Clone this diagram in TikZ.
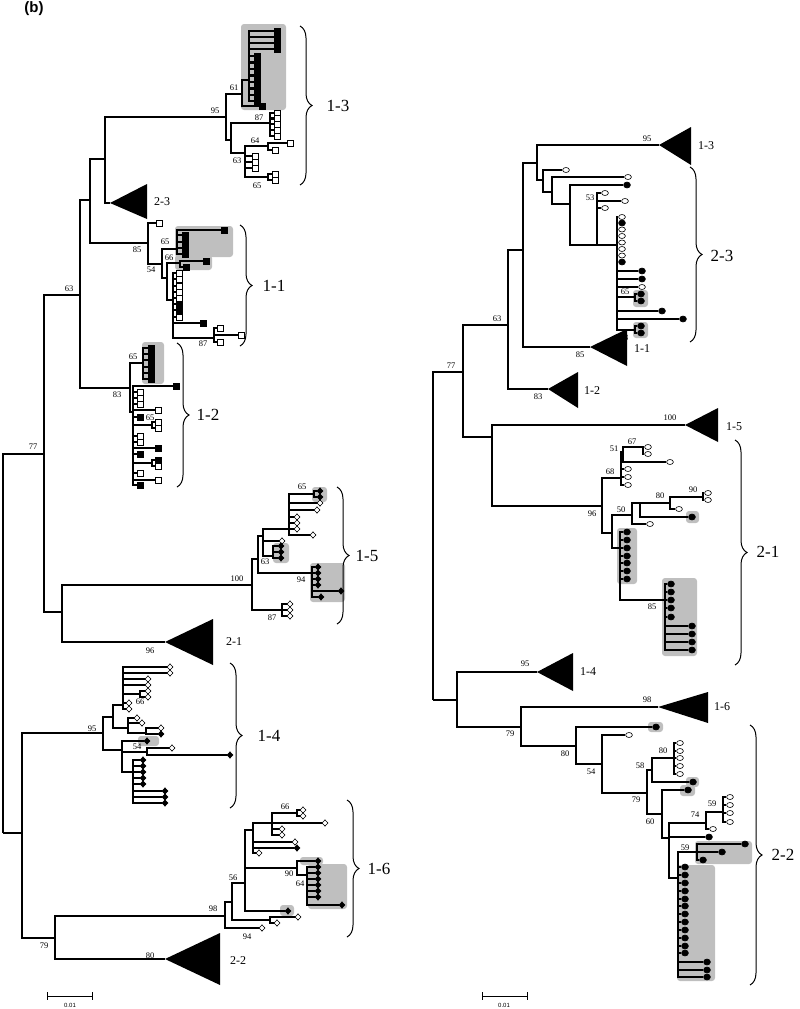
\documentclass[tikz,border=0pt]{standalone}
\usepackage{fontspec}
\setmainfont{Liberation Serif}
\newfontfamily\headfont{Liberation Sans}
\usetikzlibrary{shapes.geometric}
\usetikzlibrary{decorations.pathreplacing}

\begin{document}
\begin{tikzpicture}[x=1pt,y=-1pt,
  br/.style={line width=2.3pt},
  hl/.style={fill=black!25, rounded corners=3pt},
  osq/.style={draw, fill=white, line width=.6pt, minimum size=6pt, inner sep=0},
  fsq/.style={osq, fill=black},
  odia/.style={diamond, draw, fill=white, line width=.6pt, minimum width=6pt, minimum height=6.5pt, inner sep=0},
  fdia/.style={odia, fill=black},
  ocirc/.style={ellipse, draw, fill=white, line width=.6pt, minimum width=6.8pt, minimum height=5pt, inner sep=0},
  fcirc/.style={ocirc, fill=black, minimum height=6pt},
  bs/.style={font=\fontsize{8.5}{9}\selectfont, inner sep=0},
  big/.style={font=\fontsize{17}{18}\selectfont, inner sep=0},
  mid/.style={font=\fontsize{12}{13}\selectfont, inner sep=0},
  brc/.style={decorate, decoration={brace, amplitude=12pt}, line width=1pt}
]
\useasboundingbox (0,0) rectangle (800,1009);

\node[font=\headfont\bfseries\fontsize{15}{16}\selectfont] (title) at (34,9) {(b)};

% shaded groups
\fill[hl] (241,24) rectangle (286,110);
\fill[hl] (175,226) rectangle (233,257);
\fill[hl] (175,255) rectangle (212,270);
\fill[hl] (142,342) rectangle (164,384);
\fill[hl] (312,487) rectangle (327,502);
\fill[hl] (273,543) rectangle (289,563);
\fill[hl] (310,563) rectangle (345,602);
\fill[hl] (138,736) rectangle (159,746);
\fill[hl] (300,857) rectangle (323,865);
\fill[hl] (308,864) rectangle (347,909);
\fill[hl] (280,905) rectangle (294,916);
\fill[hl] (633,290) rectangle (648,307);
\fill[hl] (633,322) rectangle (648,338);
\fill[hl] (686,511) rectangle (699,523);
\fill[hl] (617,528) rectangle (637,584);
\fill[hl] (662,578) rectangle (697,656);
\fill[hl] (648,722) rectangle (663,732);
\fill[hl] (686,777) rectangle (699,787);
\fill[hl] (680,785) rectangle (695,796);
\fill[hl] (695,841) rectangle (752,864);
\fill[hl] (677,865) rectangle (715,981);

%%% left tree
\coordinate (Lr) at (3,833);
\coordinate (L77) at (44,454);
\coordinate (L63) at (80,295);
\coordinate (La) at (90,200);
\coordinate (Lb) at (105,159);
\coordinate (L95) at (226,117);
\coordinate (L61) at (242,94);
\coordinate (Ld) at (249,80);
\coordinate (Lc) at (231,140);
\coordinate (L87) at (270,123);
\coordinate (L63b) at (245,153);
\coordinate (L64) at (268,146);
\coordinate (L65b) at (268,177);
\coordinate (T23) at (110,203);
\coordinate (L85) at (148,243);
\coordinate (L54) at (162,264);
\coordinate (L65c) at (177,249);
\coordinate (Le) at (167,278);
\coordinate (L66) at (180,263);
\coordinate (Lf) at (173,300);
\coordinate (L87b) at (214,338);
\coordinate (L83) at (130,388);
\coordinate (L65d) at (143,363);
\coordinate (Lg) at (133,412);
\coordinate (L65e) at (152,425);
\coordinate (Lh2) at (152,463);
\coordinate (L2x) at (62,612);
\coordinate (L100) at (252,585);
\coordinate (Lh) at (258,559);
\coordinate (L94) at (312,573);
\coordinate (Li) at (263,536);
\coordinate (Lj) at (289,529);
\coordinate (L65f) at (314,494);
\coordinate (L63c) at (273,556);
\coordinate (L87c) at (282,610);
\coordinate (T21) at (165,642);
\coordinate (Lb2) at (22,833);
\coordinate (L95b) at (103,733);
\coordinate (Lk) at (113,717);
\coordinate (Ll) at (123,705);
\coordinate (Lm) at (140,694);
\coordinate (Ln) at (128,728);
\coordinate (Lo) at (146,733);
\coordinate (Lp) at (122,750);
\coordinate (L54b) at (147,752);
\coordinate (Lq) at (133,772);
\coordinate (L79) at (55,938);
\coordinate (L98) at (225,916);
\coordinate (Lr1) at (232,902);
\coordinate (Ls) at (270,920);
\coordinate (L56) at (245,883);
\coordinate (Lt) at (253,830);
\coordinate (Lu) at (272,823);
\coordinate (L66c) at (297,813);
\coordinate (L90) at (297,868);
\coordinate (L64b) at (307,875);
\coordinate (T22) at (165,959);

\draw[br] (Lr) |- (L77);
\draw[br] (Lr) -- (Lb2);
\draw[br] (L77) |- (L63);
\draw[br] (L77) |- (L2x);
\draw[br] (L63) |- (La);
\draw[br] (L63) |- (L83);
\draw[br] (La) |- (Lb);
\draw[br] (La) |- (L85);
\draw[br] (Lb) |- (L95);
\draw[br] (Lb) |- (T23);
\draw[br] (L95) |- (L61);
\draw[br] (L95) |- (Lc);
\draw[br] (L61) |- (Ld);
\draw[br] (Lc) |- (L87);
\draw[br] (Lc) |- (L63b);
\draw[br] (L63b) |- (L64);
\draw[br] (L63b) |- (L65b);
\draw[br] (L85) |- (L54);
\draw[br] (L54) |- (L65c);
\draw[br] (L54) |- (Le);
\draw[br] (Le) |- (L66);
\draw[br] (Le) |- (Lf);
\draw[br] (Lf) |- (L87b);
\draw[br] (L83) |- (L65d);
\draw[br] (L83) |- (Lg);
\draw[br] (Lg) |- (L65e);
\draw[br] (Lg) |- (Lh2);
\draw[br] (L2x) |- (L100);
\draw[br] (L2x) |- (T21);
\draw[br] (L100) |- (Lh);
\draw[br] (L100) |- (L87c);
\draw[br] (Lh) |- (Li);
\draw[br] (Lh) |- (L94);
\draw[br] (Li) |- (Lj);
\draw[br] (Li) |- (L63c);
\draw[br] (Lj) |- (L65f);
\draw[br] (Lb2) |- (L95b);
\draw[br] (Lb2) |- (L79);
\draw[br] (L95b) |- (Lk);
\draw[br] (L95b) |- (Lp);
\draw[br] (Lk) |- (Ll);
\draw[br] (Lk) |- (Ln);
\draw[br] (Ll) |- (Lm);
\draw[br] (Ln) |- (Lo);
\draw[br] (Lp) |- (L54b);
\draw[br] (Lp) |- (Lq);
\draw[br] (L79) |- (L98);
\draw[br] (L79) |- (T22);
\draw[br] (L98) |- (Lr1);
\draw[br] (Lr1) |- (L56);
\draw[br] (Lr1) |- (Ls);
\draw[br] (L56) |- (Lt);
\draw[br] (L56) |- (L90);
\draw[br] (Lt) |- (Lu);
\draw[br] (Lu) |- (L66c);
\draw[br] (L90) |- (L64b);

% leaves, left
\foreach \x/\y/\s [count=\i] in {277/31/fsq,277/37/fsq,277/43/fsq,277/49/fsq,257/56/fsq,257/62.5/fsq,257/69/fsq,257/75.5/fsq,257/82/fsq,257/88.5/fsq,257/95/fsq,257/101/fsq}
  {\node[\s] (Ld\i) at (\x,\y) {}; \draw[br] (Ld) |- (Ld\i);}
\node[fsq] (L61a) at (262,106) {}; \draw[br] (L61) |- (L61a);
\foreach \y [count=\i] in {113,118.5,124,130,136}
  {\node[osq] (L87\i) at (277,\y) {}; \draw[br] (L87) |- (L87\i);}
\foreach \y [count=\i] in {156,162,168}
  {\node[osq] (L63b\i) at (255,\y) {}; \draw[br] (L63b) |- (L63b\i);}
\foreach \x/\y [count=\i] in {290/143,275/150}
  {\node[osq] (L64\i) at (\x,\y) {}; \draw[br] (L64) |- (L64\i);}
\foreach \y [count=\i] in {174,180}
  {\node[osq] (L65b\i) at (275,\y) {}; \draw[br] (L65b) |- (L65b\i);}
\node[osq] (L85a) at (159,223) {}; \draw[br] (L85) |- (L85a);
\foreach \x/\y [count=\i] in {224/230,185/235,185/242,185/248,185/254}
  {\node[fsq] (L65c\i) at (\x,\y) {}; \draw[br] (L65c) |- (L65c\i);}
\foreach \x/\y [count=\i] in {206/261,186/267}
  {\node[fsq] (L66\i) at (\x,\y) {}; \draw[br] (L66) |- (L66\i);}
\foreach \x/\y/\s [count=\i] in {179/273/osq,179/279/osq,179/286/osq,179/292/osq,179/298/osq,179/304/fsq,179/310/fsq,179/317/osq,203/323/fsq}
  {\node[\s] (Lf\i) at (\x,\y) {}; \draw[br] (Lf) |- (Lf\i);}
\foreach \x/\y [count=\i] in {220/328,241/335,220/342}
  {\node[osq] (L87b\i) at (\x,\y) {}; \draw[br] (L87b) |- (L87b\i);}
\foreach \y [count=\i] in {348,354,360,367,373,379}
  {\node[fsq] (L65d\i) at (151,\y) {}; \draw[br] (L65d) |- (L65d\i);}
\foreach \x/\y/\s [count=\i] in {176/386/fsq,140/392/osq,140/398/osq,140/404/osq,158/410/osq,140/417/fsq,140/436/osq,140/442/osq,158/448/fsq,140/454/fsq,140/473/osq,158/480/osq,140/485/fsq}
  {\node[\s] (Lg\i) at (\x,\y) {}; \draw[br] (Lg) |- (Lg\i);}
\foreach \y [count=\i] in {422,428}
  {\node[osq] (L65e\i) at (158,\y) {}; \draw[br] (L65e) |- (L65e\i);}
\foreach \y/\s [count=\i] in {460/fsq,466/osq}
  {\node[\s] (Lh2\i) at (158,\y) {}; \draw[br] (Lh2) |- (Lh2\i);}
\node[odia] (Lia) at (282,541) {}; \draw[br] (Li) |- (Lia);
\foreach \x/\y [count=\i] in {320/503,317/510,297/517,297/523,297/529,313/535}
  {\node[odia] (Lj\i) at (\x,\y) {}; \draw[br] (Lj) |- (Lj\i);}
\foreach \y [count=\i] in {491,497}
  {\node[fdia] (L65f\i) at (320,\y) {}; \draw[br] (L65f) |- (L65f\i);}
\foreach \y [count=\i] in {546,552,558}
  {\node[fdia] (L63c\i) at (281,\y) {}; \draw[br] (L63c) |- (L63c\i);}
\foreach \x/\y [count=\i] in {318/567,318/573,318/579,318/585,341/591,321/597}
  {\node[fdia] (L94\i) at (\x,\y) {}; \draw[br] (L94) |- (L94\i);}
\foreach \y [count=\i] in {604,610,616}
  {\node[odia] (L87c\i) at (290,\y) {}; \draw[br] (L87c) |- (L87c\i);}
\foreach \x/\y [count=\i] in {170/667,170/673,148/679,148/685,129/703,129/709}
  {\node[odia] (Ll\i) at (\x,\y) {}; \draw[br] (Ll) |- (Ll\i);}
\foreach \y [count=\i] in {691,697}
  {\node[odia] (Lm\i) at (148,\y) {}; \draw[br] (Lm) |- (Lm\i);}
\foreach \x/\y [count=\i] in {137/718,142/723}
  {\node[odia] (Ln\i) at (\x,\y) {}; \draw[br] (Ln) |- (Ln\i);}
\foreach \y/\s [count=\i] in {728/odia,734/fdia}
  {\node[\s] (Lo\i) at (161,\y) {}; \draw[br] (Lo) |- (Lo\i);}
\node[fdia] (Lpa) at (147,741) {}; \draw[br] (Lp) |- (Lpa);
\foreach \x/\y/\s [count=\i] in {172/748/odia,230/755/fdia}
  {\node[\s] (L54b\i) at (\x,\y) {}; \draw[br] (L54b) |- (L54b\i);}
\foreach \x/\y [count=\i] in {143/760,143/766,143/772,143/778,143/784,165/791,165/797,165/803}
  {\node[fdia] (Lq\i) at (\x,\y) {}; \draw[br] (Lq) |- (Lq\i);}
\node[odia] (L98a) at (262,928) {}; \draw[br] (L98) |- (L98a);
\foreach \x/\y [count=\i] in {298/917,277/923}
  {\node[odia] (Ls\i) at (\x,\y) {}; \draw[br] (Ls) |- (Ls\i);}
\node[fdia] (L56a) at (288,911) {}; \draw[br] (L56) |- (L56a);
\foreach \x/\y/\s [count=\i] in {295/842/odia,297/848/fdia,259/853/odia}
  {\node[\s] (Lt\i) at (\x,\y) {}; \draw[br] (Lt) |- (Lt\i);}
\foreach \x/\y [count=\i] in {325/823,282/829,282/835}
  {\node[odia] (Lu\i) at (\x,\y) {}; \draw[br] (Lu) |- (Lu\i);}
\foreach \y [count=\i] in {810,816}
  {\node[odia] (L66c\i) at (303,\y) {}; \draw[br] (L66c) |- (L66c\i);}
\node[fdia] (L90a) at (318,861) {}; \draw[br] (L90) |- (L90a);
\foreach \x/\y [count=\i] in {318/867,318/873,318/879,318/885,318/891,318/897,342/905}
  {\node[fdia] (L64b\i) at (\x,\y) {}; \draw[br] (L64b) |- (L64b\i);}

% collapsed groups, left
\fill (T23) -- (147,184) -- (147,219) -- cycle;
\fill (T21) -- (213,619) -- (213,665) -- cycle;
\fill (T22) -- (220,933) -- (220,985) -- cycle;
\node[mid] (g23) at (162,202) {2-3};
\node[mid] (g21) at (234,642) {2-1};
\node[mid] (g22) at (238,961) {2-2};

% braces, left
\draw[brc] (300,26) -- (300,185);
\draw[brc] (240,225) -- (240,346);
\draw[brc] (177,343) -- (177,487);
\draw[brc] (337,487) -- (337,624);
\draw[brc] (230,663) -- (230,808);
\draw[brc] (347,800) -- (347,937);
\node[big] (c13) at (338,106) {1-3};
\node[big] (c11) at (274,286) {1-1};
\node[big] (c12) at (208,415) {1-2};
\node[big] (c15) at (367,556) {1-5};
\node[big] (c14) at (269,736) {1-4};
\node[big] (c16) at (379,869) {1-6};

% support values, left
\foreach \x/\y/\t [count=\i] in {33/447/77,69/289/63,215/111/95,234/88/61,259/118/87,255/141/64,237/161/63,257/186/65,137/250/85,165/242/65,151/270/54,169/258/66,203/344/87,117/395/83,133/357/65,150/418/65,237/579/100,301/580/94,302/487/65,265/562/63,272/618/87,150/651/96,92/729/95,140/702/66,137/747/54,44/946/79,213/909/98,150/956/80,233/878/56,285/807/66,289/874/90,300/884/64,247/937/94}
  \node[bs] (bl\i) at (\x,\y) {\t};

%%% right tree
\coordinate (Rr) at (433,700);
\coordinate (R79a) at (457,700);
\coordinate (R77) at (463,372);
\coordinate (R63) at (508,325);
\coordinate (Rw) at (523,250);
\coordinate (Rx) at (537,163);
\coordinate (Ry) at (543,180);
\coordinate (Rz) at (552,192);
\coordinate (Ra) at (570,204);
\coordinate (R53) at (597,245);
\coordinate (Rb) at (617,245);
\coordinate (R65) at (635,297);
\coordinate (R63b) at (635,330);
\coordinate (T13) at (659,145);
\coordinate (T11) at (590,347);
\coordinate (T12) at (548,389);
\coordinate (Rv) at (492,437);
\coordinate (T15) at (685,425);
\coordinate (R96) at (602,506);
\coordinate (R68) at (621,478);
\coordinate (R51) at (623,452);
\coordinate (R67) at (643,447);
\coordinate (Rc) at (612,533);
\coordinate (R50) at (632,515);
\coordinate (Rd) at (640,503);
\coordinate (R80) at (670,503);
\coordinate (R90) at (703,497);
\coordinate (Re) at (620,548);
\coordinate (R85) at (665,600);
\coordinate (T14) at (537,672);
\coordinate (R79) at (521,727);
\coordinate (T16) at (658,707);
\coordinate (R80b) at (576,746);
\coordinate (R54) at (602,764);
\coordinate (R79b) at (647,793);
\coordinate (R58) at (652,770);
\coordinate (R80c) at (674,758);
\coordinate (R60) at (662,814);
\coordinate (Rf) at (669,838);
\coordinate (R74) at (706,823);
\coordinate (R59) at (723,812);
\coordinate (Rg) at (678,878);
\coordinate (R59b) at (697,852);

\draw[br] (Rr) |- (R77);
\draw[br] (Rr) -- (R79a);
\draw[br] (R77) |- (R63);
\draw[br] (R77) |- (Rv);
\draw[br] (R63) |- (Rw);
\draw[br] (R63) |- (T12);
\draw[br] (Rw) |- (Rx);
\draw[br] (Rw) |- (T11);
\draw[br] (Rx) |- (T13);
\draw[br] (Rx) |- (Ry);
\draw[br] (Ry) |- (Rz);
\draw[br] (Rz) |- (Ra);
\draw[br] (Ra) |- (R53);
\draw[br] (R53) -- (Rb);
\draw[br] (Rb) |- (R65);
\draw[br] (Rb) |- (R63b);
\draw[br] (Rv) |- (T15);
\draw[br] (Rv) |- (R96);
\draw[br] (R96) |- (R68);
\draw[br] (R96) |- (Rc);
\draw[br] (R68) |- (R51);
\draw[br] (R51) |- (R67);
\draw[br] (Rc) |- (R50);
\draw[br] (Rc) |- (Re);
\draw[br] (R50) |- (Rd);
\draw[br] (Rd) -- (R80);
\draw[br] (R80) |- (R90);
\draw[br] (Re) |- (R85);
\draw[br] (R79a) |- (T14);
\draw[br] (R79a) |- (R79);
\draw[br] (R79) |- (T16);
\draw[br] (R79) |- (R80b);
\draw[br] (R80b) |- (R54);
\draw[br] (R54) |- (R79b);
\draw[br] (R79b) |- (R58);
\draw[br] (R79b) |- (R60);
\draw[br] (R58) |- (R80c);
\draw[br] (R60) |- (Rf);
\draw[br] (Rf) |- (R74);
\draw[br] (Rf) |- (Rg);
\draw[br] (R74) |- (R59);
\draw[br] (Rg) |- (R59b);

% leaves, right
\node[ocirc] (Rya) at (566,170) {}; \draw[br] (Ry) |- (Rya);
\node[ocirc] (Rza) at (628,177) {}; \draw[br] (Rz) |- (Rza);
\node[fcirc] (Raa) at (627,185) {}; \draw[br] (Ra) |- (Raa);
\foreach \x/\y [count=\i] in {605/193,625/201,605/208}
  {\node[ocirc] (R53\i) at (\x,\y) {}; \draw[br] (R53) |- (R53\i);}
\foreach \x/\y/\s [count=\i] in {622/217/ocirc,622/223/fcirc,622/229.5/ocirc,622/236/ocirc,622/242.5/ocirc,622/249/ocirc,622/255.5/ocirc,622/262/fcirc,642/271/fcirc,642/279/fcirc,642/287/ocirc,662/311/fcirc,683/319/fcirc}
  {\node[\s] (Rb\i) at (\x,\y) {}; \draw[br] (Rb) |- (Rb\i);}
\foreach \y [count=\i] in {294,301}
  {\node[fcirc] (R65\i) at (641,\y) {}; \draw[br] (R65) |- (R65\i);}
\foreach \y [count=\i] in {326,333}
  {\node[fcirc] (R63b\i) at (641,\y) {}; \draw[br] (R63b) |- (R63b\i);}
\foreach \y [count=\i] in {469,477,485}
  {\node[ocirc] (R68\i) at (628,\y) {}; \draw[br] (R68) |- (R68\i);}
\node[ocirc] (R51a) at (670,462) {}; \draw[br] (R51) |- (R51a);
\foreach \y [count=\i] in {447,454}
  {\node[ocirc] (R67\i) at (648,\y) {}; \draw[br] (R67) |- (R67\i);}
\node[ocirc] (R50a) at (650,524) {}; \draw[br] (R50) |- (R50a);
\node[fcirc] (Rda) at (692,517) {}; \draw[br] (Rd) |- (Rda);
\node[ocirc] (R80a) at (679,509) {}; \draw[br] (R80) |- (R80a);
\foreach \y [count=\i] in {493,500}
  {\node[ocirc] (R90\i) at (708,\y) {}; \draw[br] (R90) |- (R90\i);}
\foreach \y [count=\i] in {532,540,548,556,563,571,579}
  {\node[fcirc] (Re\i) at (627,\y) {}; \draw[br] (Re) |- (Re\i);}
\foreach \x/\y [count=\i] in {671/584,671/592,671/600,671/608,671/617,692/626,692/634,692/642,692/650}
  {\node[fcirc] (R85\i) at (\x,\y) {}; \draw[br] (R85) |- (R85\i);}
\node[fcirc] (R80ba) at (656,727) {}; \draw[br] (R80b) |- (R80ba);
\node[ocirc] (R54a) at (629,735) {}; \draw[br] (R54) |- (R54a);
\node[fcirc] (R58a) at (693,782) {}; \draw[br] (R58) |- (R58a);
\foreach \y [count=\i] in {743,751,758,766,774}
  {\node[ocirc] (R80c\i) at (680,\y) {}; \draw[br] (R80c) |- (R80c\i);}
\node[fcirc] (R60a) at (688,790) {}; \draw[br] (R60) |- (R60a);
\node[fcirc] (Rfa) at (709,837) {}; \draw[br] (Rf) |- (Rfa);
\node[ocirc] (R74a) at (713,829) {}; \draw[br] (R74) |- (R74a);
\foreach \y [count=\i] in {797,805,813,822}
  {\node[ocirc] (R59\i) at (730,\y) {}; \draw[br] (R59) |- (R59\i);}
\foreach \x/\y [count=\i] in {685/867,685/875,685/883,685/891,685/899,685/906,685/914,685/922,685/930,685/938,685/946,685/953,707/962,707/970,707/977}
  {\node[fcirc] (Rg\i) at (\x,\y) {}; \draw[br] (Rg) |- (Rg\i);}
\foreach \x/\y [count=\i] in {745/844,722/852,703/860}
  {\node[fcirc] (R59b\i) at (\x,\y) {}; \draw[br] (R59b) |- (R59b\i);}

% collapsed groups, right
\fill (T13) -- (691,127) -- (691,165) -- cycle;
\fill (T11) -- (627,329) -- (627,366) -- cycle;
\fill (T12) -- (578,372) -- (578,408) -- cycle;
\fill (T15) -- (718,408) -- (718,442) -- cycle;
\fill (T14) -- (573,653) -- (573,691) -- cycle;
\fill (T16) -- (708,692) -- (708,723) -- cycle;
\node[mid] (g13) at (706,146) {1-3};
\node[mid] (g11) at (642,349) {1-1};
\node[mid] (g12) at (592,391) {1-2};
\node[mid] (g15) at (734,427) {1-5};
\node[mid] (g14) at (588,672) {1-4};
\node[mid] (g16) at (722,707) {1-6};

% braces, right
\draw[brc] (690,167) -- (690,342);
\draw[brc] (735,440) -- (735,665);
\draw[brc] (750,725) -- (750,985);
\node[big] (c23) at (722,256) {2-3};
\node[big] (c21) at (768,552) {2-1};
\node[big] (c22) at (783,855) {2-2};

% support values, right
\foreach \x/\y/\t [count=\i] in {451/366/77,497/319/63,647/139/95,590/198/53,625/292/65,624/338/63,580/355/85,538/397/83,670/418/100,592/514/96,610/472/68,614/449/51,632/442/67,621/510/50,660/496/80,693/490/90,652/607/85,525/664/95,510/734/79,647/700/98,565/754/80,591/772/54,636/800/79,640/766/58,663/751/80,650/822/60,695/815/74,712/804/59,685/848/59}
  \node[bs] (br\i) at (\x,\y) {\t};

% scale bars
\draw[line width=1pt] (47,992) -- (47,1000) (47,996) -- (92,996) (92,992) -- (92,1000);
\draw[line width=1pt] (482,992) -- (482,1000) (482,996) -- (527,996) (527,992) -- (527,1000);
\node[bs, font=\headfont\fontsize{6}{7}\selectfont] (sc1) at (70,1005) {0.01};
\node[bs, font=\headfont\fontsize{6}{7}\selectfont] (sc2) at (504,1005) {0.01};
\end{tikzpicture}
\end{document}
